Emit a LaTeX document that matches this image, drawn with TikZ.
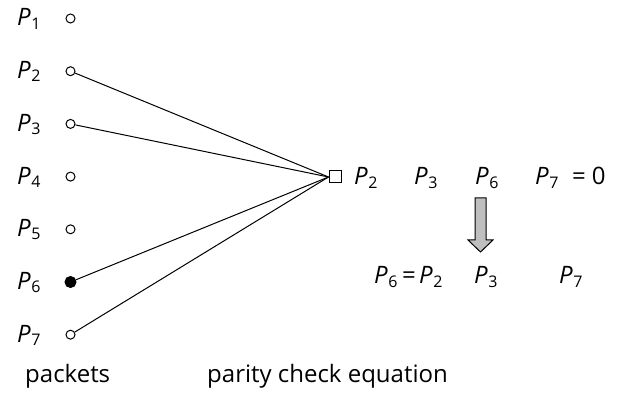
\documentclass[tikz,border=0pt]{standalone}
\usepackage{fontspec}
\setmainfont{Open Sans}
\usetikzlibrary{positioning}
% packet symbol with subscript
\newcommand{\Pk}[1]{\textit{P}\kern0.5pt\raisebox{-0.13em}{\fontsize{16}{16}\selectfont #1}}

\begin{document}
\begin{tikzpicture}[x=1pt, y=-1pt, font=\fontsize{24}{28}\selectfont, >=stealth]
  \tikzset{
    pkt/.style={circle, draw, line width=1pt, inner sep=0pt, minimum size=9pt, fill=white},
    pktfull/.style={pkt, fill=black, minimum size=11pt},
    chk/.style={rectangle, draw, line width=1pt, inner sep=0pt, minimum size=12pt},
    txt/.style={anchor=base west, inner sep=0pt}
  }
  \useasboundingbox (0,0) rectangle (630,398);
  % left: packets
  \foreach \i in {1,...,7} {
    \node[txt] (p\i) at (17, 26+52.7*\i-52.7) {\Pk{\i}};
    \coordinate (cc\i) at (70.5, 18.5+52.7*\i-52.7);
  }
  \foreach \i in {1,2,3,4,5,7}
    \node[pkt] (c\i) at (cc\i) {};
  \node[pktfull] (c6) at (cc6) {};
  % check node
  \node[chk] (chk) at (335,177) {};
  \foreach \i in {2,3,6,7}
    \draw[line width=1pt] (c\i) -- (chk.west);
  % parity check equation
  \node[txt] (e2) at (354,185) {\Pk{2}};
  \node[txt] (e3) at (414,185) {\Pk{3}};
  \node[txt] (e6) at (475,185) {\Pk{6}};
  \node[txt] (e7) at (535,185) {\Pk{7}};
  \node[txt] (e0) at (572,185) {=\hspace{6pt}0};
  % block arrow
  \draw[line width=1pt, fill=gray!50] (475,198) -- (486,198) -- (486,240) -- (493,240)
    -- (480.5,252) -- (468,240) -- (475,240) -- cycle;
  % solved for P6
  \node[txt] (f6) at (374,284) {\Pk{6}};
  \node[txt] (fq) at (402,284) {=};
  \node[txt] (f2) at (419,284) {\Pk{2}};
  \node[txt] (f3) at (474,284) {\Pk{3}};
  \node[txt] (f7) at (559,284) {\Pk{7}};
  % captions
  \node[txt] (lp) at (25,383) {packets};
  \node[txt] (lq) at (207,383) {parity check equation};
\end{tikzpicture}
\end{document}
